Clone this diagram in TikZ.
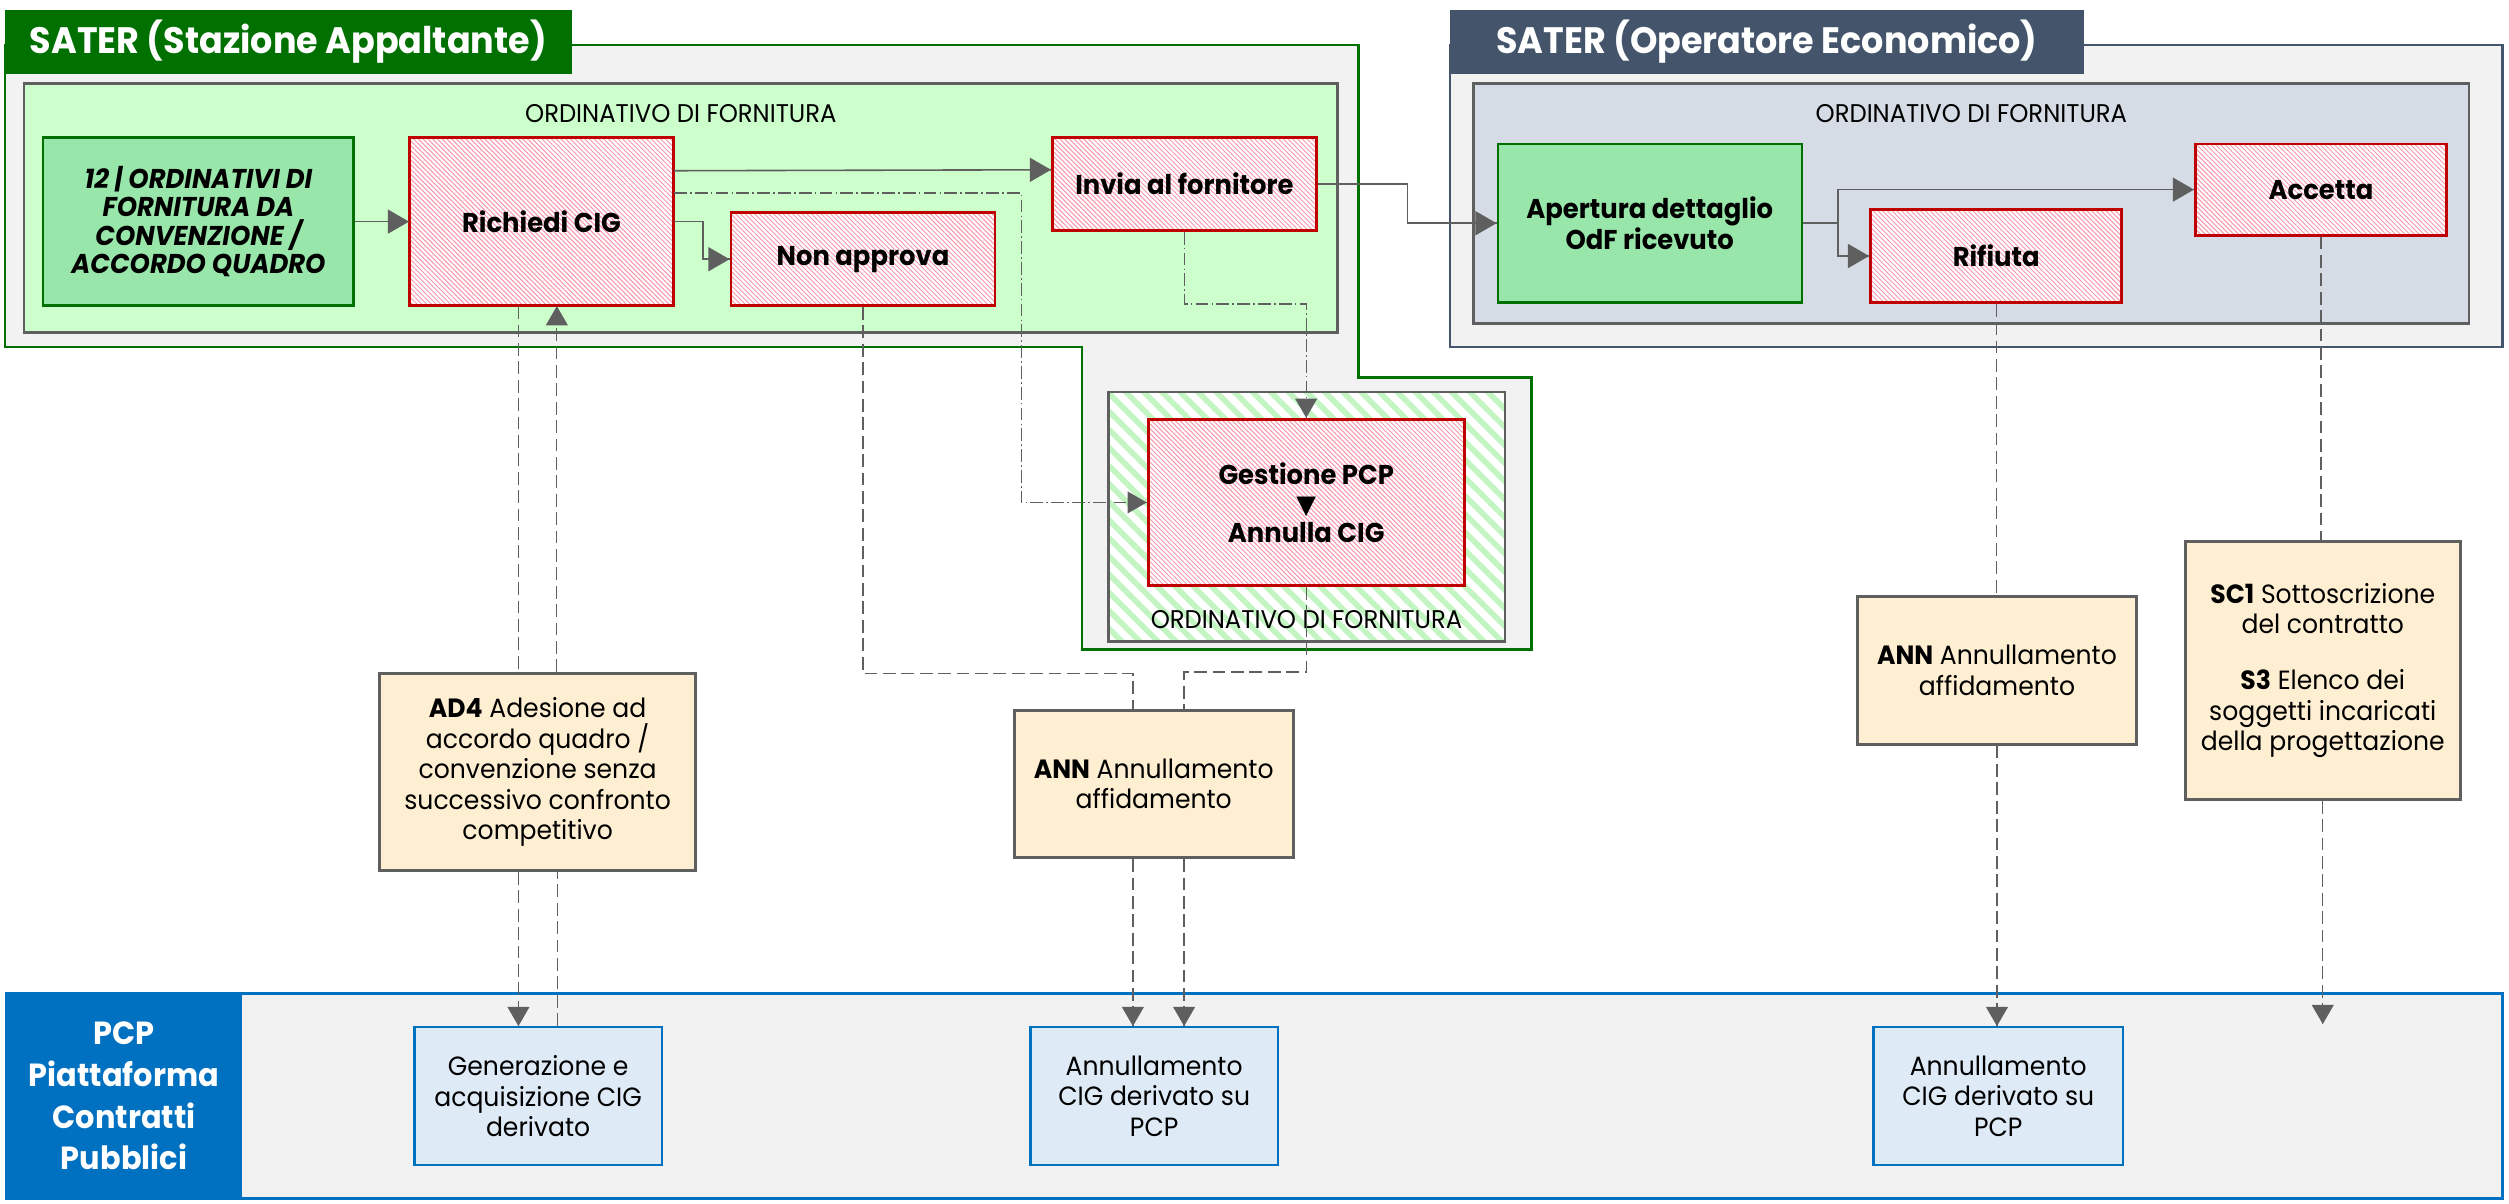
\documentclass[tikz,border=0pt]{standalone}
\usepackage{fontspec}
\setmainfont{Poppins}[FakeStretch=0.95]
\newfontfamily\arrowfont{DejaVu Sans}
\usetikzlibrary{arrows}
\usetikzlibrary{decorations.markings}
\usetikzlibrary{patterns.meta}
\definecolor{sagreen}{RGB}{0,112,0}
\definecolor{oeslate}{RGB}{68,84,106}
\definecolor{pcpblue}{RGB}{0,112,192}
\definecolor{panelgrey}{RGB}{242,242,242}
\definecolor{ordgreen}{RGB}{204,255,204}
\definecolor{ordslate}{RGB}{214,220,229}
\definecolor{entrygreen}{RGB}{152,230,170}
\definecolor{taskred}{RGB}{192,0,0}
\definecolor{hatchred}{RGB}{250,150,170}
\definecolor{hatchgreen}{RGB}{195,245,195}
\definecolor{notebeige}{RGB}{255,239,210}
\definecolor{pcplight}{RGB}{222,235,247}
\definecolor{edgegrey}{RGB}{95,95,95}
\tikzset{tri/.style = {decoration={markings,
                                   mark=at position 1 with {\arrow[scale=1.8]{triangle 60}}},
                       postaction={decorate}}}
\tikzset{headtab/.style = {anchor=north west, minimum height=40pt, inner sep=0pt, text=white,
                           font=\bfseries\fontsize{23}{28}\selectfont},
         ordframe/.style = {draw=edgegrey, line width=1.8pt},
         ordtitle/.style = {inner sep=0pt, font=\fontsize{16}{18}\selectfont},
         entrybox/.style = {draw=sagreen, fill=entrygreen, line width=1.5pt, align=center,
                            font=\bfseries\fontsize{17}{18}\selectfont},
         taskbox/.style = {draw=taskred, line width=1.8pt, preaction={fill=white},
                           pattern={Lines[angle=-45, distance=2.1pt, line width=0.6pt]},
                           pattern color=hatchred, align=center,
                           font=\bfseries\fontsize{17}{18}\selectfont},
         notebox/.style = {draw=edgegrey, fill=notebeige, line width=1.8pt, align=center,
                           font=\fontsize{16.5}{19}\selectfont},
         pcpbox/.style = {draw=pcpblue, fill=pcplight, line width=1.5pt, align=center,
                          font=\fontsize{16.5}{19}\selectfont},
         flowline/.style = {edgegrey, line width=1pt},
         linkline/.style = {edgegrey, line width=0.8pt, dash pattern=on 8pt off 3.5pt},
         altline/.style = {edgegrey, line width=0.8pt, dash pattern=on 8pt off 2pt on 1pt off 2pt}}

\begin{document}
\begin{tikzpicture}[x=1pt, y=-1pt]
    \useasboundingbox (0,0) rectangle (1568,752);

    % SATER stazione appaltante
    \draw [sagreen, fill=panelgrey, line width=1.5pt] (3,28) -- (849,28) -- (849,236) -- (957,236)
        -- (957,406) -- (676,406) -- (676,217) -- (3,217) -- cycle;
    \node [headtab, fill=sagreen, minimum width=354pt] (satab) at (3,6) {SATER (Stazione Appaltante)};
    \node [ordframe, fill=ordgreen, minimum width=821pt, minimum height=156pt] (saord) at (425.5,130) {};
    \node [ordtitle] (satitle) at (425.5,71) {ORDINATIVO DI FORNITURA};

    \node [entrybox, minimum width=194pt, minimum height=105pt, font=\bfseries\itshape\fontsize{17}{17.7}\selectfont]
        (ordinativi) at (124,138.5) {12 | ORDINATIVI DI\\FORNITURA DA\\CONVENZIONE /\\ACCORDO QUADRO};
    \node [taskbox, minimum width=165pt, minimum height=105pt] (richiedi) at (338.4,138.5) {Richiedi CIG};
    \node [taskbox, minimum width=165pt, minimum height=58pt] (nonapprova) at (539.3,162) {Non approva};
    \node [taskbox, minimum width=165pt, minimum height=58pt] (invia) at (740.2,115) {Invia al fornitore};

    % gestione PCP
    \node [ordframe, preaction={fill=white}, pattern={Lines[angle=-45, distance=8pt, line width=3.5pt]},
        pattern color=hatchgreen, minimum width=248pt, minimum height=156pt] (gesord) at (816.5,323) {};
    \node [ordtitle] (gestitle) at (816.5,387) {ORDINATIVO DI FORNITURA};
    \node [taskbox, minimum width=197.5pt, minimum height=104pt] (gestione) at (816.3,314)
        {Gestione PCP\\{\arrowfont\fontsize{16}{18}\selectfont ▼}\\Annulla CIG};

    % SATER operatore economico
    \draw [oeslate, fill=panelgrey, line width=1.5pt] (906,28) rectangle (1564,217);
    \node [headtab, fill=oeslate, minimum width=396pt] (oetab) at (906,6) {SATER (Operatore Economico)};
    \node [ordframe, fill=ordslate, minimum width=622pt, minimum height=150pt] (oeord) at (1232,127) {};
    \node [ordtitle] (oetitle) at (1232,71) {ORDINATIVO DI FORNITURA};

    \node [entrybox, minimum width=190pt, minimum height=99pt] (apertura) at (1031,139.5)
        {Apertura dettaglio\\OdF ricevuto};
    \node [taskbox, minimum width=157pt, minimum height=58pt] (rifiuta) at (1247.5,160) {Rifiuta};
    \node [taskbox, minimum width=157pt, minimum height=57pt] (accetta) at (1450.5,118.5) {Accetta};

    % schede
    \node [notebox, minimum width=197.5pt, minimum height=123pt] (ad4) at (336,482.5)
        {\textbf{AD4} Adesione ad\\accordo quadro /\\convenzione senza\\successivo confronto\\competitivo};
    \node [notebox, minimum width=174.5pt, minimum height=92pt] (annmid) at (721,490)
        {\textbf{ANN} Annullamento\\affidamento};
    \node [notebox, minimum width=174pt, minimum height=92pt] (annright) at (1248,419)
        {\textbf{ANN} Annullamento\\affidamento};
    \node [notebox, minimum width=172pt, minimum height=161pt] (sc1) at (1451.6,419)
        {\textbf{SC1} Sottoscrizione\\del contratto\\[16pt]\textbf{S3} Elenco dei\\soggetti incaricati\\della progettazione};

    % PCP
    \node [draw=pcpblue, fill=panelgrey, line width=1.5pt, minimum width=1560pt, minimum height=128pt]
        (pcplane) at (784,685) {};
    \node [fill=pcpblue, minimum width=147pt, minimum height=128pt, text=white, align=center,
        font=\bfseries\fontsize{20}{26}\selectfont] (pcplabel) at (77.5,685)
        {PCP\\Piattaforma\\Contratti\\Pubblici};
    \node [pcpbox, minimum width=154.6pt, minimum height=86pt] (generazione) at (336.3,685)
        {Generazione e\\acquisizione CIG\\derivato};
    \node [pcpbox, minimum width=154.6pt, minimum height=86pt] (pcpannmid) at (721.3,685)
        {Annullamento\\CIG derivato su\\PCP};
    \node [pcpbox, minimum width=155.7pt, minimum height=86pt] (pcpannright) at (1248.8,685)
        {Annullamento\\CIG derivato su\\PCP};
    \coordinate (sc1end) at (1451.6,640);

    % flussi
    \draw [flowline, tri] (ordinativi) -- (richiedi);
    \draw [flowline, tri] ([yshift=-21pt]richiedi.north east) -- ([yshift=-21pt]invia.north west);
    \draw [flowline, tri] (richiedi.east) -- ++(18,0) |- (nonapprova.west);
    \draw [flowline, tri] (invia.east) -- ++(56,0) |- (apertura.west);
    \draw [flowline, tri] (apertura.east) -- ++(22,0) |- (accetta.west);
    \draw [flowline, tri] (apertura.east) -- ++(22,0) |- (rifiuta.west);

    \draw [altline, tri] ([yshift=-35pt]richiedi.north east) -- ++(217,0) |- (gestione.west);
    \draw [altline, tri] (invia.south) -- ++(0,45) -| (gestione.north);

    \draw [linkline] ([xshift=-12pt]ad4.north |- richiedi.south) -- ([xshift=-12pt]ad4.north);
    \draw [linkline, tri] ([xshift=-12pt]ad4.south) -- ([xshift=-12pt]ad4.south |- generazione.north);
    \draw [linkline] ([xshift=12pt]generazione.north) -- ([xshift=12pt]generazione.north |- ad4.south);
    \draw [linkline, tri] ([xshift=12pt]ad4.north) -- ([xshift=12pt]ad4.north |- richiedi.south);

    \draw [linkline] (nonapprova.south) -- ++(0,229) -| ([xshift=-13pt]annmid.north);
    \draw [linkline] (gestione.south) -- ++(0,53) -| ([xshift=19pt]annmid.north);
    \draw [linkline, tri] ([xshift=-13pt]annmid.south) -- ([xshift=-13pt]annmid.south |- pcpannmid.north);
    \draw [linkline, tri] ([xshift=19pt]annmid.south) -- ([xshift=19pt]annmid.south |- pcpannmid.north);

    \draw [linkline] (rifiuta.south) -- (rifiuta.south |- annright.north);
    \draw [linkline, tri] (annright.south) -- (annright.south |- pcpannright.north);
    \draw [linkline] (accetta.south) -- (accetta.south |- sc1.north);
    \draw [linkline, tri] (sc1.south) -- (sc1.south |- sc1end);
\end{tikzpicture}
\end{document}
